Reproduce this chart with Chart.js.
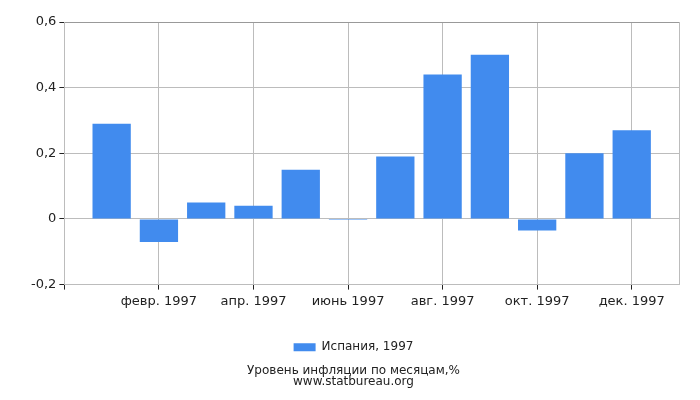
<!DOCTYPE html>
<html>
<head>
<meta charset="utf-8">
<script src="https://cdn.jsdelivr.net/npm/chart.js@4"></script>
<style>
  body { margin: 0; background: #fff; }
  #wrap { width: 700px; height: 400px; }
</style>
</head>
<body>
<div id="wrap"><canvas id="grafica" width="700" height="400"></canvas></div>
<script>
// Datos del gráfico
const meses = ['янв. 1997', 'февр. 1997', 'март 1997', 'апр. 1997', 'май 1997', 'июнь 1997',
  'июль 1997', 'авг. 1997', 'сент. 1997', 'окт. 1997', 'нояб. 1997', 'дек. 1997'];
const valores = [0.29, -0.07, 0.05, 0.04, 0.15, -0.003, 0.19, 0.44, 0.5, -0.035, 0.2, 0.27];
const ticksY = [-0.2, 0, 0.2, 0.4, 0.6];
const serie = 'Испания, 1997';
const titulo = ['Уровень инфляции по месяцам,%', 'www.statbureau.org'];

// Eje X: un hueco vacío al principio y al final
const etiquetas = [''].concat(meses, ['']);
const datos = [null].concat(valores, [null]);

const colorBarra = '#418bee';
const colorRejilla = '#bcbcbc';

function visible(i) {
  return i % 2 === 0 && i >= 2 && i <= 12;
}

const ctx = document.getElementById('grafica').getContext('2d');
new Chart(ctx, {
  type: 'bar',
  data: {
    labels: etiquetas,
    datasets: [{
      label: serie,
      data: datos,
      backgroundColor: colorBarra,
      barPercentage: 0.81,
      categoryPercentage: 1
    }]
  },
  options: {
    responsive: false,
    animation: false,
    layout: { padding: { top: 22, right: 21, left: 28, bottom: 12 } },
    scales: {
      x: {
        offset: false,
        afterFit: axis => { axis.height += 8; },
        grid: {
          offset: false,
          color: c => (visible(c.index) || c.index === 13) ? colorRejilla : 'rgba(0,0,0,0)',
          tickColor: c => (visible(c.index) || c.index === 0) ? '#222' : 'rgba(0,0,0,0)',
          tickLength: 5
        },
        border: { color: colorRejilla },
        ticks: {
          autoSkip: false,
          maxRotation: 0,
          color: '#222',
          font: { family: 'DejaVu Sans', size: 13 },
          padding: 4,
          callback: function (v, i) { return visible(i) ? etiquetas[i] : ''; }
        }
      },
      y: {
        min: -0.2,
        max: 0.6,
        afterBuildTicks: axis => { axis.ticks = ticksY.map(v => ({ value: v })); },
        grid: {
          color: c => c.tick && c.tick.value === 0.6 ? '#999' : colorRejilla,
          tickColor: '#222',
          tickLength: 5
        },
        border: { color: colorRejilla },
        ticks: {
          color: '#222',
          font: { family: 'DejaVu Sans', size: 13 },
          padding: 3,
          callback: v => String(Math.round(v * 10) / 10).replace('.', ',')
        }
      }
    },
    plugins: {
      legend: {
        position: 'bottom',
        labels: {
          boxWidth: 22,
          boxHeight: 8,
          color: '#222',
          font: { family: 'DejaVu Sans', size: 12 },
          padding: 20
        }
      },
      title: {
        display: true,
        position: 'bottom',
        text: titulo,
        color: '#222',
        font: { family: 'DejaVu Sans', size: 12, weight: 'normal', lineHeight: 0.95 },
        padding: { top: 2, bottom: 0 }
      },
      tooltip: { enabled: false }
    }
  }
});
</script>
</body>
</html>
